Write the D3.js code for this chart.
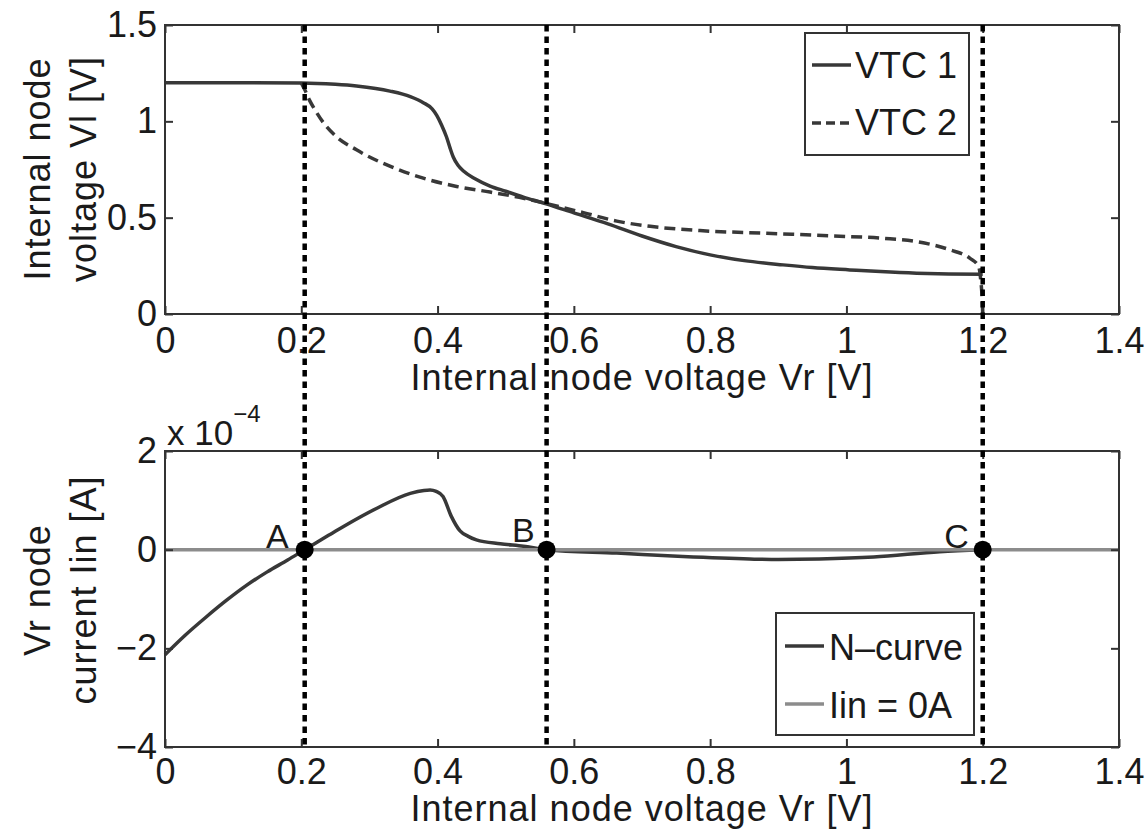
<!DOCTYPE html>
<html>
<head>
<meta charset="utf-8">
<script src="https://cdn.jsdelivr.net/npm/d3@7"></script>
<style>
  html, body { margin: 0; padding: 0; background: #fff; }
  svg { display: block; }
  text { font-family: "Liberation Sans", Arial, Helvetica, sans-serif; fill: #1a1a1a; }
</style>
</head>
<body>
<svg id="chart" width="1147" height="830"></svg>
<script>
// ---- data ----
const xTicks = [0, 0.2, 0.4, 0.6, 0.8, 1, 1.2, 1.4];
const vtcYTicks = [0, 0.5, 1, 1.5];
const curYTicks = [-4, -2, 0, 2];

// VTC 1: Vl as a function of Vr  [Vr, Vl]
const vtc1 = [
  [0, 1.2], [0.1, 1.2], [0.2, 1.199], [0.25, 1.192], [0.281, 1.183], [0.33, 1.157],
  [0.36, 1.128], [0.379, 1.097], [0.392, 1.065], [0.399, 1.03], [0.406, 0.98],
  [0.413, 0.92], [0.418, 0.865], [0.423, 0.815], [0.43, 0.772], [0.438, 0.742],
  [0.455, 0.702], [0.477, 0.664], [0.5, 0.637], [0.526, 0.607], [0.558, 0.573],
  [0.6, 0.525], [0.65, 0.468], [0.7, 0.405], [0.75, 0.35], [0.8, 0.307],
  [0.85, 0.277], [0.907, 0.255], [0.95, 0.241], [1.005, 0.229], [1.05, 0.22],
  [1.103, 0.212], [1.15, 0.208], [1.2, 0.206]
];

// VTC 2: mirrored transfer curve  [Vr, Vl]
const vtc2 = [
  [0.2, 1.2], [0.205, 1.165], [0.212, 1.11], [0.22, 1.06], [0.232, 0.995],
  [0.25, 0.925], [0.281, 0.852], [0.33, 0.767], [0.379, 0.705], [0.428, 0.662],
  [0.477, 0.633], [0.526, 0.601], [0.558, 0.575], [0.614, 0.526], [0.663, 0.482],
  [0.712, 0.455], [0.785, 0.433], [0.883, 0.419], [0.981, 0.405], [1.054, 0.393],
  [1.103, 0.376], [1.152, 0.333], [1.181, 0.29], [1.194, 0.247], [1.197, 0.18],
  [1.199, 0.09], [1.2, 0]
];

// N-curve: Vr node current (units of 1e-4 A)  [Vr, Iin]
const nCurve = [
  [0, -2.13], [0.03, -1.73], [0.06, -1.37], [0.09, -1.03], [0.12, -0.72],
  [0.15, -0.45], [0.18, -0.21], [0.205, 0], [0.24, 0.29], [0.262, 0.47],
  [0.311, 0.84], [0.36, 1.14], [0.38, 1.2], [0.389, 1.21], [0.398, 1.18],
  [0.408, 1.08], [0.42, 0.68], [0.433, 0.38], [0.445, 0.27], [0.457, 0.2],
  [0.492, 0.12], [0.526, 0.07], [0.56, 0], [0.663, -0.07], [0.76, -0.14],
  [0.858, -0.19], [0.9, -0.2], [0.96, -0.19], [1.04, -0.15], [1.137, -0.04],
  [1.2, 0]
];

// Iin = 0 reference line
const zeroLine = [[0, 0], [1.4, 0]];

// Equilibrium points where the N-curve crosses zero
const crossings = [
  { name: "A", v: 0.205 },
  { name: "B", v: 0.56 },
  { name: "C", v: 1.2 }
];

// ---- layout ----
const svg = d3.select("#chart");
const FONT = 36;
const left = 165, right = 1119;
const top1 = 25, bottom1 = 314;
const top2 = 451, bottom2 = 747;

const x = d3.scaleLinear().domain([0, 1.4]).range([left, right]);
const yV = d3.scaleLinear().domain([0, 1.5]).range([bottom1, top1]);
const yI = d3.scaleLinear().domain([-4, 2]).range([bottom2, top2]);

const axisColor = "#333";
const curveColor = "#383838";

function frame(yScale, yTicks, top, bottom, fmtY, xPad) {
  const g = svg.append("g");
  const tk = 8;
  const styleAxis = sel => {
    sel.select(".domain").remove();
    sel.selectAll(".tick line").attr("stroke", axisColor).attr("stroke-width", 2);
    sel.selectAll(".tick text")
      .style("font-size", FONT + "px")
      .attr("fill", "#1a1a1a");
  };
  g.append("g").attr("transform", `translate(0,${bottom})`)
    .call(d3.axisBottom(x).tickValues(xTicks).tickSize(-tk).tickPadding(xPad)
      .tickFormat(d3.format("")))
    .call(styleAxis);
  g.append("g").attr("transform", `translate(0,${top})`)
    .call(d3.axisTop(x).tickValues(xTicks).tickSize(-tk).tickFormat(""))
    .call(styleAxis);
  g.append("g").attr("transform", `translate(${left},0)`)
    .call(d3.axisLeft(yScale).tickValues(yTicks).tickSize(-tk).tickPadding(8)
      .tickFormat(fmtY))
    .call(styleAxis);
  g.append("g").attr("transform", `translate(${right},0)`)
    .call(d3.axisRight(yScale).tickValues(yTicks).tickSize(-tk).tickFormat(""))
    .call(styleAxis);
  g.append("rect")
    .attr("x", left).attr("y", top)
    .attr("width", right - left).attr("height", bottom - top)
    .attr("fill", "none").attr("stroke", axisColor).attr("stroke-width", 2);
  return g;
}

const minus = d => (d < 0 ? "\u2212" + Math.abs(d) : String(d));

// ---- top panel: voltage transfer curves ----
const lineV = d3.line().x(d => x(d[0])).y(d => yV(d[1])).curve(d3.curveMonotoneX);
svg.append("path").datum(vtc1).attr("d", lineV)
  .attr("fill", "none").attr("stroke", curveColor).attr("stroke-width", 3.5);
svg.append("path").datum(vtc2).attr("d", lineV)
  .attr("fill", "none").attr("stroke", curveColor).attr("stroke-width", 3.5)
  .attr("stroke-dasharray", "11,6");
frame(yV, vtcYTicks, top1, bottom1, d3.format(""), 13);

// ---- bottom panel: N-curve ----
const lineI = d3.line().x(d => x(d[0])).y(d => yI(d[1])).curve(d3.curveMonotoneX);
svg.append("path").datum(nCurve).attr("d", lineI)
  .attr("fill", "none").attr("stroke", curveColor).attr("stroke-width", 3.5);
svg.append("path").datum(zeroLine).attr("d", lineI)
  .attr("fill", "none").attr("stroke", "#8c8c8c").attr("stroke-width", 3.5);
frame(yI, curYTicks, top2, bottom2, minus, 11);

// exponent label
const expo = svg.append("text").attr("x", 167).attr("y", 445).style("font-size", "35px");
expo.append("tspan").text("x 10");
expo.append("tspan").attr("dy", -23).style("font-size", "24px").text("\u22124");

// axis titles
const titleStyle = sel => sel.style("font-size", FONT + "px").style("letter-spacing", "1px");
svg.append("text").attr("x", (left + right) / 2).attr("y", 390)
  .attr("text-anchor", "middle").call(titleStyle)
  .text("Internal node voltage Vr [V]");
svg.append("text").attr("x", (left + right) / 2).attr("y", 821)
  .attr("text-anchor", "middle").call(titleStyle)
  .text("Internal node voltage Vr [V]");

function yTitle(lines, cy) {
  const xs = [50, 96];
  lines.forEach((t, i) => {
    svg.append("text")
      .attr("transform", `translate(${xs[i]},${cy}) rotate(-90)`)
      .attr("text-anchor", "middle").call(titleStyle)
      .text(t);
  });
}
yTitle(["Internal node", "voltage Vl [V]"], 169);
yTitle(["Vr node", "current Iin [A]"], 590);

// ---- legends ----
function legend(x0, y0, w, h, items, sampleX0, sampleX1, textX) {
  const g = svg.append("g");
  g.append("rect").attr("x", x0).attr("y", y0).attr("width", w).attr("height", h)
    .attr("fill", "#fff").attr("stroke", axisColor).attr("stroke-width", 2);
  items.forEach(it => {
    g.append("line").attr("x1", sampleX0).attr("x2", sampleX1)
      .attr("y1", it.ly).attr("y2", it.ly)
      .attr("stroke", it.color).attr("stroke-width", 3.5)
      .attr("stroke-dasharray", it.dash || null);
    g.append("text").attr("x", textX).attr("y", it.ty)
      .style("font-size", FONT + "px").text(it.label);
  });
}
legend(805, 33, 164, 122, [
  { label: "VTC 1", color: curveColor, ly: 65, ty: 78 },
  { label: "VTC 2", color: curveColor, dash: "9,5", ly: 123, ty: 135 }
], 812, 851, 855);
legend(776, 613, 198, 122, [
  { label: "N\u2013curve", color: curveColor, ly: 646, ty: 660 },
  { label: "Iin = 0A", color: "#8c8c8c", ly: 704, ty: 718 }
], 785, 824, 829);

// ---- equilibrium markers and guide lines ----
const offs = { A: [-16, -2], B: [-12, -8], C: [-14, -2] };
svg.selectAll(".guide").data(crossings).enter().append("line")
  .attr("x1", d => x(d.v)).attr("x2", d => x(d.v))
  .attr("y1", top1).attr("y2", bottom2)
  .attr("stroke", "#000").attr("stroke-width", 4.5)
  .attr("stroke-dasharray", "6.5,5");
svg.selectAll(".pt").data(crossings).enter().append("circle")
  .attr("cx", d => x(d.v)).attr("cy", yI(0)).attr("r", 9).attr("fill", "#000");
svg.selectAll(".ptlab").data(crossings).enter().append("text")
  .attr("x", d => x(d.v) + offs[d.name][0]).attr("y", d => yI(0) + offs[d.name][1])
  .attr("text-anchor", "end").style("font-size", "34px").text(d => d.name);
</script>
</body>
</html>
